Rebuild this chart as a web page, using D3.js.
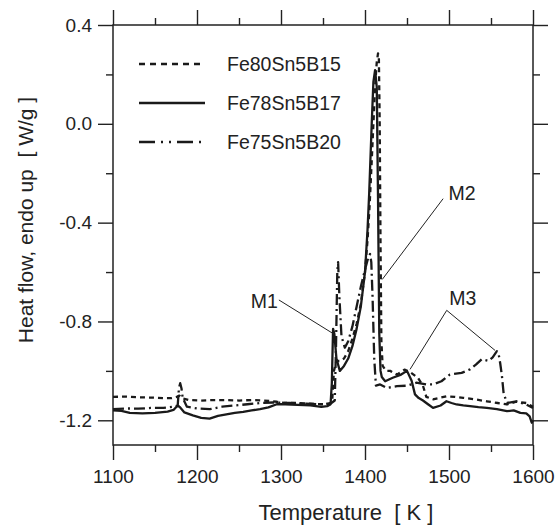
<!DOCTYPE html>
<html>
<head>
<meta charset="utf-8">
<script src="https://cdn.jsdelivr.net/npm/d3@7"></script>
<style>
    body { margin: 0; background: #fff; }
    svg text { font-family: "Liberation Sans", Arial, sans-serif; fill: #222; }
    .axis path { display: none; }
    .axis line { stroke: #222; stroke-width: 1.4; }
</style>
</head>
<body>
<script>
(function () {
    // Tick values
    var xMajor = [1100, 1200, 1300, 1400, 1500, 1600],
        xMinor = [1150, 1250, 1350, 1450, 1550],
        yMajor = [-1.2, -0.8, -0.4, 0.0, 0.4],
        yMinor = [-1.0, -0.6, -0.2, 0.2];

    var seriesNames = ['Fe80Sn5B15', 'Fe78Sn5B17', 'Fe75Sn5B20'];

    // Fe80Sn5B15 (dashed)
    var fe80Temp = [1100, 1115, 1130, 1145, 1160, 1170, 1176, 1179, 1183, 1190, 1205, 1220, 1235, 1250, 1265, 1280,
        1295, 1305, 1320, 1335, 1350, 1358, 1361, 1363, 1366, 1370, 1375, 1380, 1385, 1390, 1395, 1400, 1403,
        1405.5, 1408, 1410, 1412, 1414, 1415.5, 1416.5, 1417.5, 1418.5, 1419.5, 1421, 1425, 1430, 1438, 1447, 1455,
        1463, 1469, 1473, 1481, 1490, 1497, 1507, 1517, 1530, 1545, 1558, 1569, 1580, 1592, 1600];
    var fe80Flow = [-1.105, -1.104, -1.107, -1.108, -1.11, -1.11, -1.105, -1.10, -1.112, -1.118, -1.12, -1.118, -1.118,
        -1.12, -1.118, -1.12, -1.125, -1.13, -1.13, -1.133, -1.135, -1.135, -1.12, -1.0, -0.96, -0.96, -0.95,
        -0.92, -0.87, -0.81, -0.73, -0.6, -0.47, -0.33, -0.15, 0.0, 0.15, 0.25, 0.285, 0.27, 0.0, -0.5, -0.88, -0.98,
        -1.0, -1.0, -1.015, -0.995, -1.008, -1.028, -1.06, -1.105, -1.115, -1.108, -1.103, -1.105, -1.109, -1.115,
        -1.123, -1.13, -1.136, -1.125, -1.13, -1.145];

    // Fe78Sn5B17 (solid)
    var fe78Temp = [1100, 1110, 1120, 1135, 1150, 1165, 1172, 1177, 1180, 1185, 1195, 1205, 1215, 1225, 1235, 1245,
        1255, 1265, 1275, 1285, 1295, 1305, 1320, 1335, 1348, 1355, 1359, 1360.5, 1362, 1363.5, 1366, 1370, 1375,
        1380, 1385, 1390, 1395, 1400, 1403, 1405, 1408, 1410, 1412, 1414, 1415.5, 1417, 1418.5, 1420, 1424, 1433,
        1443, 1450, 1455.5, 1459.5, 1464, 1469, 1475, 1481, 1490, 1497, 1503, 1509, 1517, 1525, 1535, 1545, 1557,
        1569, 1577, 1585, 1592, 1596, 1598.5, 1600];
    var fe78Flow = [-1.16, -1.162, -1.17, -1.172, -1.17, -1.165, -1.158, -1.14, -1.148, -1.168, -1.18, -1.19, -1.193,
        -1.182, -1.176, -1.17, -1.166, -1.16, -1.155, -1.148, -1.135, -1.135, -1.138, -1.14, -1.146, -1.143, -1.135,
        -1.05, -0.83, -0.85, -0.95, -1.0, -0.98, -0.95, -0.9, -0.83, -0.74, -0.6, -0.43, -0.28, 0.0, 0.17, 0.217,
        0.15, -0.3, -0.85, -1.0, -1.025, -1.042, -1.028, -1.015, -1.0, -1.04, -1.095, -1.11, -1.12, -1.135, -1.15,
        -1.14, -1.123, -1.13, -1.136, -1.14, -1.143, -1.147, -1.15, -1.155, -1.163, -1.16, -1.17, -1.172, -1.184,
        -1.21, -1.2];

    // Fe75Sn5B20 (dash-dot)
    var fe75Temp = [1100, 1115, 1130, 1145, 1160, 1172, 1177, 1178.5, 1180, 1181.5, 1183, 1188, 1200, 1215, 1230,
        1245, 1260, 1275, 1290, 1310, 1330, 1350, 1360, 1364, 1365.5, 1367, 1368, 1369.5, 1372, 1376, 1380, 1385,
        1390, 1395, 1400, 1404, 1406, 1407.5, 1409, 1411, 1413, 1418, 1426, 1438, 1450, 1461, 1473, 1481, 1491,
        1501, 1515, 1525, 1532, 1539, 1547, 1552, 1557, 1559, 1561, 1563, 1565, 1569, 1580, 1592, 1600];
    var fe75Flow = [-1.155, -1.152, -1.153, -1.15, -1.15, -1.145, -1.14, -1.07, -1.05, -1.07, -1.11, -1.145, -1.152,
        -1.155, -1.145, -1.14, -1.135, -1.13, -1.128, -1.13, -1.133, -1.135, -1.13, -1.12, -0.9, -0.6, -0.56, -0.7,
        -0.86, -0.906, -0.88, -0.82, -0.74, -0.66, -0.59, -0.54, -0.527, -0.56, -0.7, -0.95, -1.06, -1.055, -1.069,
        -1.062, -1.06, -1.048, -1.055, -1.055, -1.042, -1.015, -1.008, -0.994, -0.975, -0.953, -0.96, -0.945, -0.92,
        -0.93, -0.97, -1.02, -1.09, -1.13, -1.123, -1.136, -1.15];

    // Annotation labels
    var noteLabels = ['M1', 'M2', 'M3'];

    // Frame dimensions
    var width = 560,
        height = 528,
        left = 113,
        top = 25,
        innerWidth = 420,
        innerHeight = 420;

    var x = d3.scaleLinear()
        .domain([1100, 1600])
        .range([left, left + innerWidth]);

    var y = d3.scaleLinear()
        .domain([-1.3, 0.4])
        .range([top + innerHeight, top]);

    var svg = d3.select('body')
        .append('svg')
        .attr('width', width)
        .attr('height', height);

    var fmt = function (d) { return d.toFixed(1); };

    // Major and minor ticks on all four sides
    function addAxis(axis, tx, ty, values, size, labels) {
        var g = svg.append('g')
            .attr('class', 'axis')
            .attr('transform', 'translate(' + tx + ',' + ty + ')')
            .call(axis.tickValues(values).tickSize(size));
        g.selectAll('text')
            .attr('font-size', 19)
            .style('font-family', '"Liberation Sans", Arial, sans-serif');
        if (!labels) g.selectAll('text').remove();
        return g;
    }

    addAxis(d3.axisBottom(x).tickPadding(10).tickFormat(d3.format('d')), 0, top + innerHeight, xMajor, 15, true);
    addAxis(d3.axisBottom(x), 0, top + innerHeight, xMinor, 7, false);
    addAxis(d3.axisTop(x), 0, top, xMajor, 15, false);
    addAxis(d3.axisTop(x), 0, top, xMinor, 7, false);
    addAxis(d3.axisLeft(y).tickPadding(6).tickFormat(fmt), left, 0, yMajor, 15, true);
    addAxis(d3.axisLeft(y), left, 0, yMinor, 7, false);
    addAxis(d3.axisRight(y), left + innerWidth, 0, yMajor, 15, false);
    addAxis(d3.axisRight(y), left + innerWidth, 0, yMinor, 7, false);

    // Plot frame
    svg.append('rect')
        .attr('x', left)
        .attr('y', top)
        .attr('width', innerWidth)
        .attr('height', innerHeight)
        .attr('fill', 'none')
        .attr('stroke', '#222')
        .attr('stroke-width', 1.5);

    // Series
    var series = [
        { name: seriesNames[0], temp: fe80Temp, flow: fe80Flow, dash: '5,4', key: '6,5' },
        { name: seriesNames[1], temp: fe78Temp, flow: fe78Flow, dash: null, key: null },
        { name: seriesNames[2], temp: fe75Temp, flow: fe75Flow, dash: '11,4,2,4', key: '16,6,2,6,2,6' }
    ];

    var line = d3.line()
        .x(function (d) { return x(d[0]); })
        .y(function (d) { return y(d[1]); });

    svg.selectAll('.curve')
        .data(series)
        .enter()
        .append('path')
        .attr('class', 'curve')
        .attr('d', function (s) {
            return line(s.temp.map(function (t, i) { return [t, s.flow[i]]; }));
        })
        .attr('fill', 'none')
        .attr('stroke', '#1a1a1a')
        .attr('stroke-width', 2.3)
        .attr('stroke-linejoin', 'round')
        .attr('stroke-dasharray', function (s) { return s.dash; });

    // Legend
    var legend = svg.selectAll('.legend')
        .data(series)
        .enter()
        .append('g')
        .attr('class', 'legend')
        .attr('transform', function (d, i) { return 'translate(139,' + (64 + i * 39) + ')'; });

    legend.append('line')
        .attr('x1', 0)
        .attr('x2', 66)
        .attr('stroke', '#1a1a1a')
        .attr('stroke-width', 2.3)
        .attr('stroke-dasharray', function (d) { return d.key; });

    legend.append('text')
        .attr('x', 88)
        .attr('dy', '0.36em')
        .attr('font-size', 19.5)
        .text(function (d) { return d.name; });

    // Annotations: label position and pointer lines (data coordinates)
    var notes = [
        { label: noteLabels[0], at: [1280, -0.745], lines: [[[1297.5, -0.713], [1363, -0.851]]] },
        { label: noteLabels[1], at: [1515.5, -0.31], lines: [[[1493, -0.303], [1420.5, -0.63]]] },
        { label: noteLabels[2], at: [1516.5, -0.733], lines: [[[1497.3, -0.755], [1453.6, -0.994]],
            [[1497.3, -0.755], [1554.8, -0.917]]] }
    ];

    notes.forEach(function (n) {
        svg.append('text')
            .attr('x', x(n.at[0]))
            .attr('y', y(n.at[1]))
            .attr('text-anchor', 'middle')
            .attr('font-size', 19.5)
            .text(n.label);
        n.lines.forEach(function (l) {
            svg.append('line')
                .attr('x1', x(l[0][0]))
                .attr('y1', y(l[0][1]))
                .attr('x2', x(l[1][0]))
                .attr('y2', y(l[1][1]))
                .attr('stroke', '#222')
                .attr('stroke-width', 1);
        });
    });

    // Axis titles
    svg.append('text')
        .attr('x', 346)
        .attr('y', 520)
        .attr('text-anchor', 'middle')
        .attr('font-size', 22)
        .style('white-space', 'pre')
        .text('Temperature  [ K ]');

    svg.append('text')
        .attr('transform', 'translate(33,220) rotate(-90)')
        .attr('text-anchor', 'middle')
        .attr('font-size', 21)
        .style('white-space', 'pre')
        .text('Heat flow, endo up  [ W/g ]');
})();
</script>
</body>
</html>
